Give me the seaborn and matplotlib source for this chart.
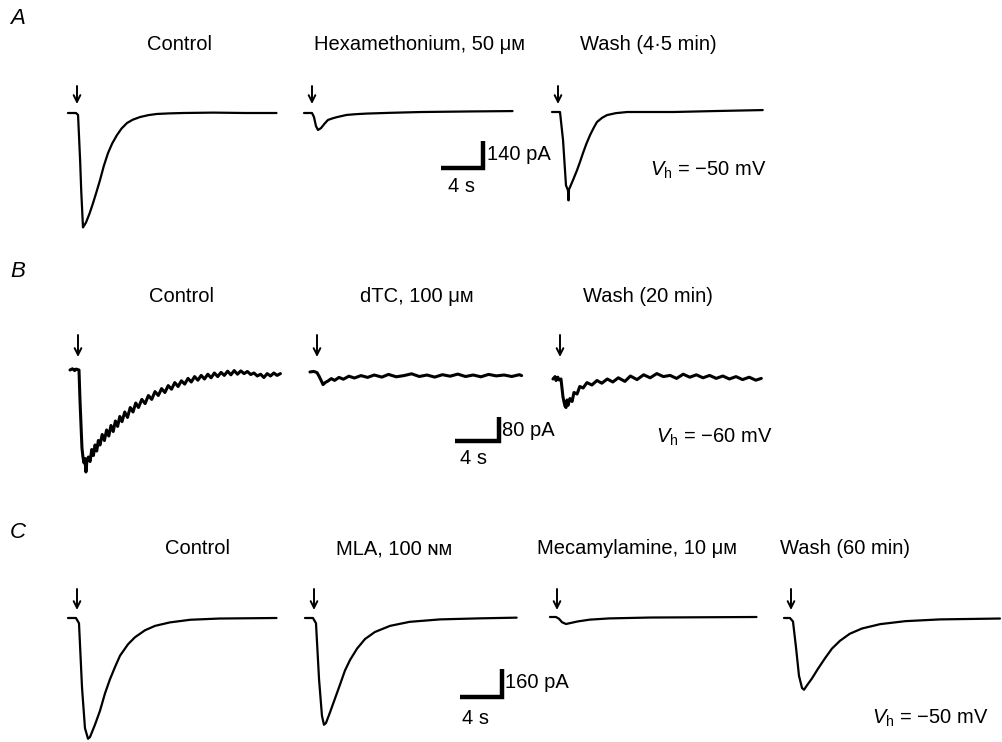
import seaborn as sns
import matplotlib.pyplot as plt
import matplotlib as mpl

# ---- trace data: time from application (s), current re. baseline (pA) ----
# panel A
a_ctl_t = [-0.86, -0.1, 0.1, 0.3, 0.4, 0.57, 0.86, 1.2, 1.52, 1.85, 2.19, 2.55, 2.95, 3.35, 3.81, 4.25,
           4.76, 5.3, 6.0, 6.8, 7.6, 8.8, 10.1, 13.0, 16.0, 19.0]
a_ctl_i = [0, 0, -10, -250, -400, -593, -567, -520, -468, -410, -348, -275, -208, -158, -114, -80,
           -52, -35, -21, -11, -5, -2, 0, 2, 0, 0]
a_hex_t = [-0.76, 0.0, 0.19, 0.38, 0.57, 0.86, 1.2, 1.52, 2.0, 2.4, 3.3, 4.2, 5.2, 7.5, 10.3, 15.0, 19.1]
a_hex_i = [0, 0, -21, -68, -88, -78, -55, -36, -27, -21, -10, -6, -3, 1, 5, 8, 10]
a_wsh_t = [-0.57, 0.19, 0.48, 0.76, 0.95, 1.0, 1.05, 1.14, 1.45, 1.81, 2.1, 2.38, 2.7, 3.05, 3.4, 3.71,
           4.2, 4.67, 5.5, 6.6, 11.0, 15.0, 19.5]
a_wsh_i = [0, 0, -146, -380, -406, -458, -400, -390, -350, -302, -258, -213, -165, -120, -82, -52,
           -30, -16, -6, 0, 0, 5, 10]

# panel B
b_ctl_t = [-0.73, -0.5, -0.3, -0.18, 0.09, 0.18, 0.36, 0.45, 0.55, 0.64, 0.72, 0.82, 0.95, 1.1, 1.25,
           1.4, 1.55, 1.7, 1.85, 2.0, 2.2, 2.4, 2.6, 2.8, 3.0, 3.2, 3.4, 3.6, 3.8, 4.0, 4.25, 4.5,
           4.75, 5.0, 5.25, 5.5, 5.8, 6.1, 6.4, 6.7, 7.0, 7.3, 7.6, 7.9, 8.2, 8.5, 8.8, 9.1, 9.4,
           9.7, 10.0, 10.3, 10.6, 10.9, 11.2, 11.5, 11.8, 12.1, 12.4, 12.7, 13.0, 13.3, 13.6, 13.9,
           14.2, 14.5, 14.8, 15.1, 15.4, 15.7, 16.0, 16.3, 16.6, 16.9, 17.2, 17.5, 17.8, 18.1, 18.4]
b_ctl_i = [0, 4, -2, 3, 0, -100, -260, -290, -310, -295, -340, -300, -290, -305, -265,
           -285, -250, -270, -235, -250, -215, -235, -200, -220, -185, -205, -170, -188, -155, -172,
           -140, -158, -125, -140, -110, -125, -98, -112, -85, -98, -72, -85, -62, -75, -52, -64,
           -42, -55, -36, -47, -28, -40, -22, -34, -18, -30, -14, -26, -10, -22, -8, -18, -4, -16,
           -2, -14, -3, -12, -5, -15, -10, -20, -14, -25, -12, -20, -10, -18, -12]
b_dtc_t = [-0.64, -0.3, 0.0, 0.2, 0.4, 0.55, 0.75, 1.0, 1.3, 1.6, 2.0, 2.4, 2.9, 3.4, 4.0, 4.6, 5.2, 5.9,
           6.5, 7.2, 7.9, 8.6, 9.3, 10.0, 10.7, 11.4, 12.1, 12.8, 13.5, 14.2, 14.9, 15.6, 16.3, 17.0,
           17.7, 18.4, 18.6]
b_dtc_i = [0, 2, -2, -15, -30, -42, -35, -30, -22, -28, -18, -24, -14, -20, -12, -18, -10, -17,
           -8, -16, -12, -6, -15, -10, -17, -9, -14, -7, -15, -10, -16, -8, -13, -10, -15, -9, -12]
b_wsh_t = [-0.64, -0.45, -0.36, -0.2, -0.09, 0.09, 0.27, 0.45, 0.55, 0.64, 0.73, 0.9, 1.1, 1.27, 1.55,
           1.8, 2.1, 2.45, 2.9, 3.36, 3.8, 4.3, 4.8, 5.3, 5.9, 6.4, 7.0, 7.6, 8.2, 8.8, 9.4, 10.0, 10.6,
           11.2, 11.8, 12.4, 13.0, 13.6, 14.2, 14.8, 15.4, 16.0, 16.6, 17.2, 17.8, 18.3]
b_wsh_i = [0, 8, -5, 6, -3, 0, -60, -90, -95, -70, -88, -65, -75, -45, -50,
           -25, -30, -12, -20, -5, -14, 0, -10, 4, -8, 10, -2, 14, 4, 18, 8, 12, 2,
           16, 6, 14, 4, 12, 2, 10, 0, 8, -2, 6, -4, 2]

# panel C
c_ctl_t = [-0.86, -0.1, 0.19, 0.48, 0.76, 1.05, 1.24, 1.71, 2.19, 2.67, 3.14, 3.62, 4.1, 4.86, 5.52,
           6.48, 7.43, 8.86, 10.8, 13.6, 19.0]
c_ctl_i = [0, 0, -30, -400, -630, -690, -680, -610, -530, -430, -350, -280, -215, -150, -110,
           -70, -45, -25, -10, -3, 0]
c_mla_t = [-0.86, -0.1, 0.19, 0.48, 0.76, 0.95, 1.14, 1.52, 2.0, 2.48, 2.95, 3.43, 4.1, 4.86, 5.8,
           7.24, 9.1, 12.0, 15.8, 19.3]
c_mla_i = [0, 0, -30, -350, -560, -610, -600, -540, -460, -380, -300, -240, -175, -120, -80,
           -45, -22, -8, -2, 2]
c_mec_t = [-0.67, -0.1, 0.19, 0.48, 0.86, 1.24, 2.0, 3.14, 5.0, 8.9, 19.0]
c_mec_i = [0, 0, -10, -30, -40, -35, -25, -15, -8, -3, 0]
c_wsh_t = [-0.67, -0.1, 0.19, 0.48, 0.76, 1.05, 1.24, 1.52, 2.0, 2.57, 3.24, 3.9, 4.67, 5.6, 6.76,
           8.5, 10.9, 14.2, 19.9]
c_wsh_i = [0, 0, -20, -170, -330, -400, -410, -385, -345, -290, -230, -175, -130, -90, -60,
           -35, -18, -8, -3]

titles_a = ['Control', 'Hexamethonium, 50 μᴍ', 'Wash (4·5 min)']
titles_b = ['Control', 'dTC, 100 μᴍ', 'Wash (20 min)']
titles_c = ['Control', 'MLA, 100 ɴᴍ', 'Mecamylamine, 10 μᴍ', 'Wash (60 min)']
scale_s = [4, 4, 4]
scale_pa = [140, 80, 160]
vh_labels = [r'$V_\mathrm{h}$ = −50 mV', r'$V_\mathrm{h}$ = −60 mV', r'$V_\mathrm{h}$ = −50 mV']

sns.set_theme(style='white')
plt.rcParams['font.family'] = ['Liberation Sans', 'DejaVu Sans']
plt.rcParams['text.color'] = 'black'
plt.rcParams['mathtext.fontset'] = 'custom'
plt.rcParams['mathtext.rm'] = 'Liberation Sans'
plt.rcParams['mathtext.it'] = 'Liberation Sans:italic'

W, H = 1002, 742
fig = plt.figure(figsize=(W / 100, H / 100), dpi=100)
fig.patch.set_facecolor('white')
fs = 14.5

# layout per row (pixels)
rows = [
    dict(letter='A', ly=18, yb=113, pps=10.5, ppa=0.193, lw=1.6,
         traces=[(a_ctl_t, a_ctl_i), (a_hex_t, a_hex_i), (a_wsh_t, a_wsh_i)],
         arrows=[77, 312, 558], bases=[113, 113, 112], arrow_y=(86, 104),
         titles=titles_a, title_x=[180, 419, 648], title_y=44,
         bar=(441, 168), pa_txt=(487, 155), s_txt=(462, 186), vh=(708, 170)),
    dict(letter='B', ly=272, yb=370, pps=11.0, ppa=0.30, lw=2.2,
         traces=[(b_ctl_t, b_ctl_i), (b_dtc_t, b_dtc_i), (b_wsh_t, b_wsh_i)],
         arrows=[78, 317, 560], bases=[370, 372, 379], arrow_y=(335, 357),
         titles=titles_b, title_x=[182, 417, 648], title_y=297,
         bar=(455, 441), pa_txt=(502, 431), s_txt=(474, 458), vh=(714, 437)),
    dict(letter='C', ly=533, yb=618, pps=10.5, ppa=0.175, lw=1.6,
         traces=[(c_ctl_t, c_ctl_i), (c_mla_t, c_mla_i), (c_mec_t, c_mec_i), (c_wsh_t, c_wsh_i)],
         arrows=[77, 314, 557, 791], bases=[618, 618, 617, 618], arrow_y=(589, 610),
         titles=titles_c, title_x=[197, 394, 637, 845], title_y=549,
         bar=(460, 697), pa_txt=(505, 683), s_txt=(476, 718), vh=(930, 718)),
]

for k, r in enumerate(rows):
    ax = fig.add_axes([0, 0, 1, 1])
    ax.set_axis_off()
    ax.patch.set_alpha(0)
    pps, ppa, yb = r['pps'], r['ppa'], r['yb']
    ax.set_xlim(0, W / pps)
    ax.set_ylim(-(H - yb) / ppa, yb / ppa)

    def dx(px):
        return px / pps

    def dy(py):
        return (yb - py) / ppa

    for (t, i), xa, base in zip(r['traces'], r['arrows'], r['bases']):
        xs = [dx(xa) + v for v in t]
        ys = [v + dy(base) for v in i]
        sns.lineplot(x=xs, y=ys, ax=ax, color='black', lw=r['lw'], sort=False, estimator=None)
        ax.annotate('', xy=(dx(xa), dy(r['arrow_y'][1])), xytext=(dx(xa), dy(r['arrow_y'][0])),
                    arrowprops=dict(arrowstyle='->', color='black', lw=1.4, mutation_scale=12,
                                    shrinkA=0, shrinkB=0))

    # scale bar
    bx, by = dx(r['bar'][0]), dy(r['bar'][1])
    ax.plot([bx, bx + scale_s[k], bx + scale_s[k]], [by, by, by + scale_pa[k]],
            color='black', lw=3.2, solid_joinstyle='miter', solid_capstyle='butt')

    def ft(px, py, s, **kw):
        fig.text(px / W, 1 - py / H, s, **kw)

    ft(10, r['ly'], r['letter'], fontsize=16, style='italic', ha='left', va='center')
    for s, tx in zip(r['titles'], r['title_x']):
        ft(tx, r['title_y'], s, fontsize=fs, ha='center', va='center')
    ft(r['pa_txt'][0], r['pa_txt'][1], f'{scale_pa[k]} pA', fontsize=fs, ha='left', va='center')
    ft(r['s_txt'][0], r['s_txt'][1], f'{scale_s[k]} s', fontsize=fs, ha='center', va='center')
    ft(r['vh'][0], r['vh'][1], vh_labels[k], fontsize=fs, ha='center', va='center')

plt.savefig('out.png', dpi=100)
plt.close()
